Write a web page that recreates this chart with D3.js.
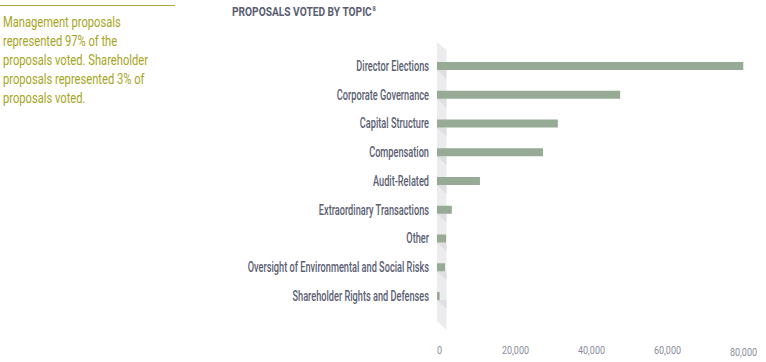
<!DOCTYPE html>
<html lang="en">
<head>
<meta charset="UTF-8">
<title>Proposals Voted by Topic</title>
<script src="https://d3js.org/d3.v7.min.js"></script>
<style>
  body { margin: 0; background: #fff; }
  svg { display: block; }
</style>
</head>
<body>
<div id="chart"></div>
<script>
// Data
const categories = [
  'Director Elections',
  'Corporate Governance',
  'Capital Structure',
  'Compensation',
  'Audit-Related',
  'Extraordinary Transactions',
  'Other',
  'Oversight of Environmental and Social Risks',
  'Shareholder Rights and Defenses'
];
const proposals = [80600, 48200, 31800, 27900, 11300, 3900, 2400, 2100, 700];
const tickValues = [0, 20000, 40000, 60000, 80000];
const noteLines = [
  'Management proposals',
  'represented 97% of the',
  'proposals voted. Shareholder',
  'proposals represented 3% of',
  'proposals voted.'
];

const W = 766, H = 362;
const font = 'Roboto, "Noto Sans", sans-serif';
const svg = d3.select('#chart').append('svg')
  .attr('width', W).attr('height', H);

// the original uses a condensed face; squeeze a normal one to the same width
function squeeze(sample, size, weight, target) {
  const t = svg.append('text')
    .attr('font-family', font).attr('font-size', size).attr('font-weight', weight)
    .text(sample);
  const w = t.node().getComputedTextLength();
  t.remove();
  return target / w;
}

// side note
const kNote = squeeze('proposals voted. Shareholder', 14.5, 400, 145);
svg.append('line')
  .attr('x1', 0).attr('x2', 175).attr('y1', 5.5).attr('y2', 5.5)
  .attr('stroke', '#a9a83a').attr('stroke-width', 1);
svg.append('g').selectAll('text')
  .data(noteLines)
  .join('text')
  .attr('transform', (d, i) => `translate(3,${27 + i * 19}) scale(${kNote},1)`)
  .attr('font-family', font)
  .attr('font-size', 14.5)
  .attr('fill', '#a6a522')
  .text(d => d);

// title
const kTitle = squeeze('PROPOSALS VOTED BY TOPIC', 12.5, 700, 140);
const title = svg.append('text')
  .attr('transform', `translate(232,16) scale(${kTitle},1)`)
  .attr('font-family', font)
  .attr('font-size', 12.5)
  .attr('font-weight', 700)
  .attr('fill', '#5b5e72')
  .text('PROPOSALS VOTED BY TOPIC');
title.append('tspan')
  .attr('font-size', 7)
  .attr('dx', 1)
  .attr('dy', -5)
  .text('8');

// scales
const x = d3.scaleLinear().domain([0, 80000]).range([437.5, 741.5]);
const y = d3.scalePoint().domain(categories).range([66, 296]);
const barH = 8;

// axis wall
const wall = svg.append('g');
wall.append('polygon')
  .attr('points', [[437, 42], [446.5, 50], [446.5, 330], [437, 321]].join(' '))
  .attr('fill', '#ececee');
wall.selectAll('polygon.shade')
  .data(categories)
  .join('polygon')
  .attr('class', 'shade')
  .attr('points', d => {
    const b = y(d) + barH / 2;
    return [[437, b], [446.5, b], [446.5, b + 9]].join(' ');
  })
  .attr('fill', '#dfdfe2');

// bars
svg.append('g').selectAll('rect')
  .data(categories.map((c, i) => ({ c, v: proposals[i] })))
  .join('rect')
  .attr('x', x(0) - 0.5)
  .attr('y', d => y(d.c) - barH / 2)
  .attr('width', d => x(d.v) - x(0))
  .attr('height', barH)
  .attr('fill', '#97aa96');

// category labels
const kLab = (squeeze('Director Elections', 14, 500, 77) +
  squeeze('Oversight of Environmental and Social Risks', 14, 500, 171)) / 2;
svg.append('g').selectAll('text')
  .data(categories)
  .join('text')
  .attr('transform', d => `translate(429,${y(d)}) scale(${kLab},1)`)
  .attr('dy', '0.35em')
  .attr('text-anchor', 'end')
  .attr('font-family', font)
  .attr('font-size', 14)
  .attr('font-weight', 500)
  .attr('fill', '#5b5e72')
  .text(d => d);

// x axis
const kTick = squeeze('20,000', 11, 400, 27);
const xAxis = svg.append('g')
  .attr('transform', 'translate(1.5,350)')
  .call(d3.axisBottom(x).tickValues(tickValues).tickSize(0).tickFormat(d3.format(',')));
xAxis.select('.domain').remove();
xAxis.selectAll('text')
  .attr('y', 0).attr('dy', '0.35em')
  .attr('transform', `scale(${kTick},1)`)
  .attr('font-family', font)
  .attr('font-size', 11)
  .attr('fill', '#8a8b9a')
  .filter(d => d === 80000).attr('y', 2);
</script>
</body>
</html>
